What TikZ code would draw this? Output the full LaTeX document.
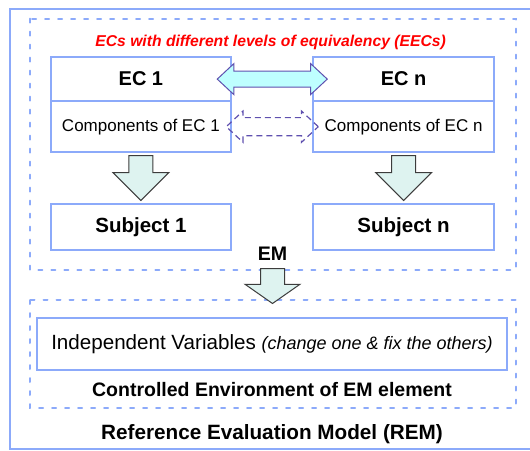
\documentclass[tikz,border=0pt]{standalone}
\usepackage{fontspec}
\setsansfont{Liberation Sans}
\usetikzlibrary{positioning,calc,shapes.arrows}
\definecolor{remblue}{RGB}{140,170,250}
\definecolor{linkfill}{RGB}{190,255,255}
\definecolor{linkline}{RGB}{95,80,175}
\definecolor{downfill}{RGB}{222,243,240}
\definecolor{downline}{RGB}{60,60,60}
\newcommand\remsize[1]{\fontsize{#1}{#1}\selectfont}

\begin{document}
\begin{tikzpicture}[x=1pt,y=-1pt,node distance=0pt,font=\sffamily,
  outer frame/.style={draw=remblue,line width=2pt},
  dash frame/.style={draw=remblue,line width=2pt,line cap=round,dash pattern=on 4pt off 9pt},
  ec box/.style={draw=remblue,line width=2pt,fill=white,outer sep=0pt,inner sep=0pt,
    minimum width=180.3pt,minimum height=44.6pt,font=\sffamily\bfseries\remsize{20}},
  comp box/.style={ec box,minimum height=50.6pt,font=\sffamily\remsize{17}},
  subj box/.style={ec box,minimum height=46.4pt,font=\sffamily\bfseries\remsize{20.5}},
  title/.style={inner sep=0pt,font=\sffamily\bfseries\remsize{19.5}},
  down arrow/.style={single arrow,draw=downline,fill=downfill,line width=1pt,
    inner xsep=0pt,inner ysep=11.5pt,single arrow head extend=16pt,
    single arrow tip angle=90,minimum height=45pt,minimum width=55pt},
  link arrow/.style={double arrow,draw=linkline,fill=linkfill,line width=1pt,
    inner xsep=0pt,inner ysep=7.5pt,double arrow head extend=7.5pt,
    double arrow tip angle=86,minimum height=110pt,minimum width=30pt}]

  \useasboundingbox (0,0) rectangle (530,450);

  % frames
  \draw[outer frame] (10,9) rectangle (560,449);
  \draw[dash frame] (29.7,18.6) rectangle (516,270);
  \draw[dash frame] (29.7,300) rectangle (516,407.6);

  \node[title,text=red,font=\sffamily\bfseries\itshape\remsize{15.7}] (eecs) at (270.6,42.3)
    {ECs with different levels of equivalency (EECs)};

  % the two ECs
  \node[ec box] (ec1) at (140.9,79.1) {EC 1};
  \node[comp box,below=of ec1] (comp1) {Components of EC 1};
  \node[ec box] (ecn) at (403.6,79.1) {EC n};
  \node[comp box,below=of ecn] (compn) {Components of EC n};

  \node[subj box,below=52pt of comp1] (subj1) {Subject 1};
  \node[subj box,below=52pt of compn] (subjn) {Subject n};

  \node[down arrow,anchor=west,rotate=-90] (a1) at ([yshift=-3pt]comp1.south) {};
  \node[down arrow,anchor=west,rotate=-90] (an) at ([yshift=-3pt]compn.south) {};

  \node[link arrow] (link) at ($(ec1.east)!0.5!(ecn.west)$) {};
  \node[link arrow,fill=none,line width=1.2pt,dash pattern=on 6pt off 4pt,minimum height=92pt,
    inner ysep=8.5pt,double arrow head extend=6.5pt] (link2) at ($(comp1.east)!0.5!(compn.west)$) {};

  % EM and its environment
  \node[title,font=\sffamily\bfseries\remsize{19.6}] (em) at (272.5,254) {EM};
  \node[down arrow,anchor=west,rotate=-90,minimum height=35pt,minimum width=54pt,
    single arrow head extend=15.5pt,single arrow tip angle=110] (a3) at (272.5,268) {};

  \node[ec box,minimum width=470pt,minimum height=52.5pt,font=\sffamily\remsize{20.6}] (iv) at (272,344.2)
    {Independent Variables {\remsize{18}\itshape (change one \& fix the others)}};
  \node[title] (ctrl) at (272,389.7) {Controlled Environment of EM element};
  \node[title,font=\sffamily\bfseries\remsize{20.7}] (rem) at (272,433.7) {Reference Evaluation Model (REM)};
\end{tikzpicture}
\end{document}
